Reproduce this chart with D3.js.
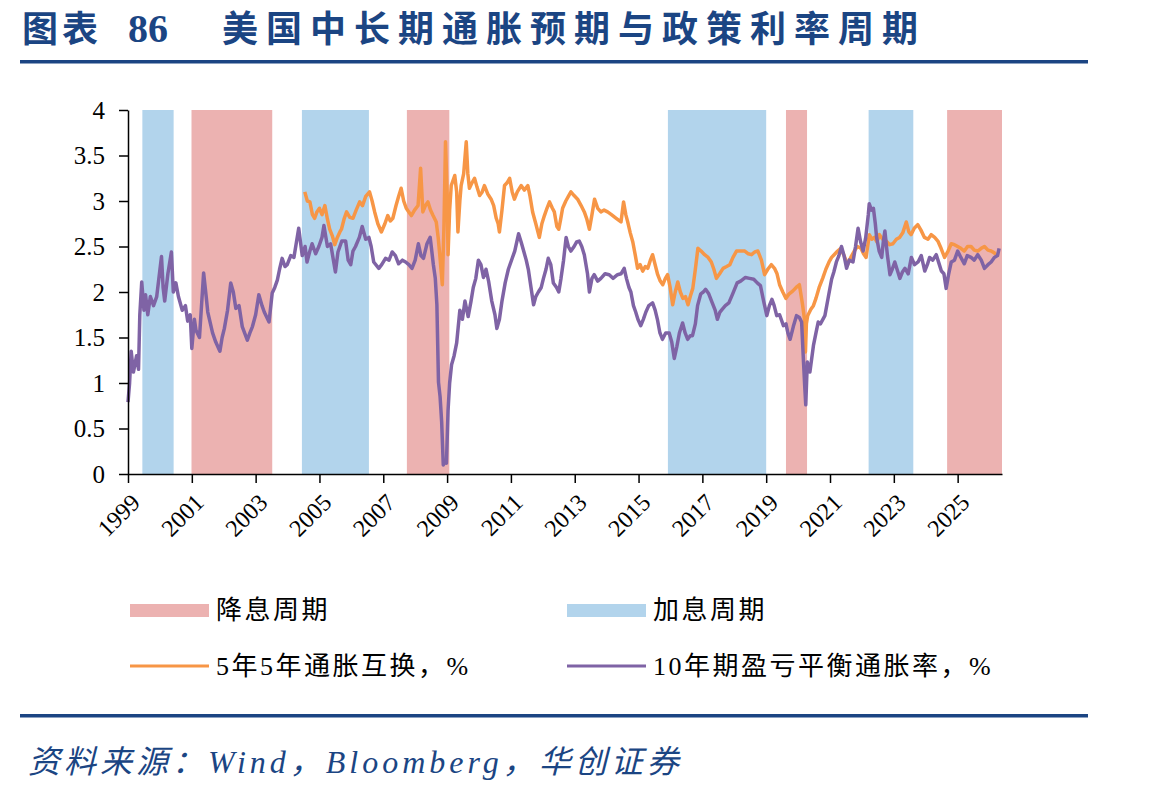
<!DOCTYPE html>
<html>
<head>
<meta charset="utf-8">
<script src="https://cdn.jsdelivr.net/npm/d3@7"></script>
<style>
  html, body { margin: 0; padding: 0; background: #fff; }
  svg { display: block; }
</style>
</head>
<body>
<div id="chart"></div>
<script>
// 美国中长期通胀预期与政策利率周期 — bands for Fed cycles, two inflation-expectation lines

const TITLE_TAG = '图表'
const TITLE_NUM = '86'
const TITLE_TEXT = '美国中长期通胀预期与政策利率周期'
const SOURCE_TEXT = '资料来源：Wind，Bloomberg，华创证券'

const yTicks = [0, 0.5, 1, 1.5, 2, 2.5, 3, 3.5, 4]
const xTicks = [1999, 2001, 2003, 2005, 2007, 2009, 2011, 2013, 2015, 2017, 2019, 2021, 2023, 2025]

// [start, end] in decimal years
const cutCycles = [[2000.99, 2003.52], [2007.74, 2009.07], [2019.62, 2020.28], [2024.67, 2026.39]]
const hikeCycles = [[1999.45, 2000.43], [2004.45, 2006.55], [2015.92, 2019.0], [2022.21, 2023.61]]

const legendLabels = ['降息周期', '加息周期', '5年5年通胀互换，%', '10年期盈亏平衡通胀率，%']

// 10年期盈亏平衡通胀率 [year, %]
const breakeven10y = [
  [1999.00, 0.79], [1999.05, 1.00], [1999.10, 1.35], [1999.17, 1.12], [1999.27, 1.30], [1999.33, 1.15],
  [1999.37, 1.75], [1999.43, 2.11], [1999.50, 1.80], [1999.55, 1.97], [1999.62, 1.75], [1999.70, 1.95],
  [1999.80, 1.85], [1999.90, 1.95], [2000.05, 2.39], [2000.10, 2.05], [2000.15, 1.90], [2000.25, 2.20],
  [2000.36, 2.44], [2000.42, 2.00], [2000.50, 2.10], [2000.58, 1.95], [2000.70, 1.80], [2000.80, 1.85],
  [2000.87, 1.68], [2000.95, 1.75], [2001.00, 1.38], [2001.08, 1.70], [2001.13, 1.58], [2001.24, 1.50],
  [2001.37, 2.21], [2001.45, 1.95], [2001.50, 1.78], [2001.65, 1.55], [2001.75, 1.45], [2001.88, 1.35],
  [2001.95, 1.50], [2002.02, 1.60], [2002.12, 1.80], [2002.22, 2.10], [2002.30, 2.00], [2002.38, 1.82],
  [2002.48, 1.85], [2002.58, 1.62], [2002.74, 1.47], [2002.82, 1.55], [2002.90, 1.62], [2003.00, 1.75],
  [2003.10, 1.97], [2003.20, 1.85], [2003.27, 1.78], [2003.42, 1.67], [2003.52, 1.99], [2003.60, 2.05],
  [2003.68, 2.13], [2003.75, 2.25], [2003.83, 2.37], [2003.92, 2.28], [2003.99, 2.30], [2004.10, 2.40],
  [2004.20, 2.38], [2004.35, 2.70], [2004.46, 2.40], [2004.55, 2.50], [2004.61, 2.33], [2004.70, 2.45],
  [2004.77, 2.53], [2004.88, 2.42], [2004.98, 2.50], [2005.08, 2.60], [2005.14, 2.73], [2005.25, 2.50],
  [2005.35, 2.53], [2005.50, 2.22], [2005.58, 2.44], [2005.70, 2.56], [2005.82, 2.56], [2005.90, 2.35],
  [2005.98, 2.30], [2006.05, 2.45], [2006.13, 2.50], [2006.25, 2.60], [2006.34, 2.72], [2006.45, 2.58],
  [2006.55, 2.60], [2006.62, 2.50], [2006.70, 2.33], [2006.86, 2.26], [2006.95, 2.30], [2007.07, 2.37],
  [2007.18, 2.35], [2007.28, 2.44], [2007.38, 2.40], [2007.48, 2.31], [2007.60, 2.35], [2007.70, 2.33],
  [2007.80, 2.30], [2007.90, 2.26], [2008.00, 2.35], [2008.10, 2.53], [2008.18, 2.40], [2008.26, 2.37],
  [2008.37, 2.53], [2008.47, 2.60], [2008.52, 2.45], [2008.57, 2.30], [2008.63, 2.15], [2008.68, 1.86],
  [2008.73, 1.01], [2008.78, 0.85], [2008.83, 0.57], [2008.88, 0.10], [2008.95, 0.15], [2008.98, 0.12],
  [2009.03, 0.70], [2009.08, 1.00], [2009.14, 1.20], [2009.22, 1.30], [2009.30, 1.44], [2009.40, 1.80],
  [2009.48, 1.70], [2009.56, 1.90], [2009.66, 1.73], [2009.75, 1.90], [2009.82, 2.05], [2009.90, 2.15],
  [2009.98, 2.35], [2010.06, 2.30], [2010.14, 2.16], [2010.22, 2.25], [2010.30, 2.12], [2010.40, 1.90],
  [2010.50, 1.75], [2010.56, 1.60], [2010.64, 1.70], [2010.72, 1.90], [2010.82, 2.10], [2010.92, 2.25],
  [2011.03, 2.36], [2011.12, 2.45], [2011.24, 2.64], [2011.32, 2.55], [2011.40, 2.45], [2011.48, 2.35],
  [2011.55, 2.24], [2011.63, 2.05], [2011.71, 1.86], [2011.78, 1.95], [2011.86, 2.00], [2011.95, 2.05],
  [2012.02, 2.15], [2012.10, 2.25], [2012.17, 2.37], [2012.25, 2.30], [2012.33, 2.10], [2012.43, 2.05],
  [2012.50, 2.00], [2012.57, 2.15], [2012.65, 2.35], [2012.73, 2.60], [2012.80, 2.50], [2012.88, 2.45],
  [2012.98, 2.50], [2013.06, 2.55], [2013.14, 2.56], [2013.22, 2.50], [2013.30, 2.41], [2013.40, 2.20],
  [2013.46, 2.00], [2013.54, 2.15], [2013.61, 2.19], [2013.72, 2.12], [2013.82, 2.15], [2013.95, 2.20],
  [2014.08, 2.19], [2014.20, 2.15], [2014.34, 2.19], [2014.45, 2.20], [2014.55, 2.26], [2014.62, 2.15],
  [2014.70, 2.05], [2014.76, 2.00], [2014.84, 1.85], [2014.91, 1.78], [2014.98, 1.70], [2015.07, 1.63],
  [2015.15, 1.70], [2015.23, 1.78], [2015.32, 1.85], [2015.44, 1.88], [2015.52, 1.80], [2015.59, 1.70],
  [2015.67, 1.55], [2015.75, 1.48], [2015.85, 1.55], [2015.96, 1.55], [2016.04, 1.45], [2016.12, 1.27],
  [2016.20, 1.40], [2016.28, 1.55], [2016.38, 1.66], [2016.46, 1.55], [2016.54, 1.48], [2016.62, 1.52],
  [2016.69, 1.52], [2016.78, 1.65], [2016.85, 1.85], [2016.95, 1.98], [2017.03, 2.00], [2017.10, 2.03],
  [2017.20, 1.98], [2017.31, 1.88], [2017.40, 1.80], [2017.47, 1.70], [2017.55, 1.78], [2017.62, 1.81],
  [2017.72, 1.85], [2017.83, 1.88], [2017.95, 1.98], [2018.09, 2.10], [2018.20, 2.12], [2018.35, 2.16],
  [2018.48, 2.15], [2018.61, 2.14], [2018.72, 2.10], [2018.82, 2.07], [2018.92, 1.90], [2019.02, 1.74],
  [2019.10, 1.85], [2019.18, 1.92], [2019.25, 1.85], [2019.33, 1.74], [2019.42, 1.75], [2019.54, 1.63],
  [2019.62, 1.65], [2019.68, 1.55], [2019.75, 1.48], [2019.85, 1.62], [2019.95, 1.74], [2020.04, 1.72],
  [2020.11, 1.67], [2020.17, 1.23], [2020.21, 0.95], [2020.24, 0.76], [2020.27, 1.05], [2020.29, 1.23],
  [2020.37, 1.12], [2020.48, 1.41], [2020.56, 1.55], [2020.63, 1.67], [2020.70, 1.65], [2020.84, 1.74],
  [2020.95, 1.95], [2021.05, 2.14], [2021.12, 2.22], [2021.20, 2.33], [2021.28, 2.40], [2021.36, 2.50],
  [2021.44, 2.40], [2021.52, 2.26], [2021.60, 2.35], [2021.72, 2.33], [2021.80, 2.50], [2021.88, 2.70],
  [2021.96, 2.55], [2022.04, 2.45], [2022.12, 2.60], [2022.20, 2.85], [2022.23, 2.97], [2022.30, 2.90],
  [2022.36, 2.92], [2022.42, 2.75], [2022.46, 2.60], [2022.54, 2.45], [2022.62, 2.38], [2022.67, 2.55],
  [2022.72, 2.67], [2022.80, 2.40], [2022.88, 2.19], [2022.95, 2.25], [2023.03, 2.33], [2023.10, 2.25],
  [2023.19, 2.15], [2023.27, 2.22], [2023.35, 2.26], [2023.45, 2.20], [2023.55, 2.38], [2023.65, 2.30],
  [2023.76, 2.33], [2023.86, 2.40], [2023.97, 2.23], [2024.05, 2.30], [2024.12, 2.38], [2024.22, 2.35],
  [2024.33, 2.41], [2024.41, 2.32], [2024.49, 2.23], [2024.57, 2.20], [2024.64, 2.04], [2024.72, 2.20],
  [2024.80, 2.33], [2024.90, 2.35], [2025.00, 2.45], [2025.10, 2.38], [2025.21, 2.31], [2025.30, 2.40],
  [2025.42, 2.38], [2025.52, 2.35], [2025.63, 2.41], [2025.74, 2.35], [2025.84, 2.26], [2025.95, 2.30],
  [2026.05, 2.33], [2026.15, 2.38], [2026.25, 2.40], [2026.30, 2.48]
]

// 5年5年通胀互换 [year, %]
const swap5y5y = [
  [2004.54, 3.10], [2004.62, 3.00], [2004.70, 2.99], [2004.78, 2.85], [2004.85, 2.81], [2004.92, 2.88],
  [2005.00, 2.92], [2005.08, 2.85], [2005.17, 2.95], [2005.25, 2.80], [2005.32, 2.69], [2005.40, 2.62],
  [2005.48, 2.52], [2005.56, 2.60], [2005.64, 2.66], [2005.69, 2.69], [2005.77, 2.80], [2005.85, 2.88],
  [2005.95, 2.82], [2006.05, 2.81], [2006.15, 2.90], [2006.26, 2.99], [2006.35, 2.95], [2006.45, 3.05],
  [2006.57, 3.10], [2006.65, 3.00], [2006.73, 2.88], [2006.83, 2.75], [2006.94, 2.66], [2007.05, 2.75],
  [2007.14, 2.84], [2007.22, 2.78], [2007.30, 2.81], [2007.40, 2.95], [2007.48, 3.05], [2007.56, 3.14],
  [2007.64, 3.00], [2007.72, 2.92], [2007.80, 2.88], [2007.88, 2.84], [2007.98, 2.90], [2008.09, 2.95],
  [2008.17, 3.36], [2008.24, 2.88], [2008.32, 2.95], [2008.40, 2.99], [2008.48, 2.90], [2008.56, 2.84],
  [2008.66, 2.77], [2008.72, 2.60], [2008.77, 2.41], [2008.85, 2.08], [2008.90, 2.70], [2008.95, 3.65],
  [2009.00, 3.10], [2009.03, 2.41], [2009.08, 2.90], [2009.13, 3.17], [2009.24, 3.28], [2009.30, 3.10],
  [2009.34, 2.66], [2009.40, 3.00], [2009.44, 3.17], [2009.52, 3.30], [2009.60, 3.65], [2009.65, 3.30],
  [2009.70, 3.14], [2009.78, 3.20], [2009.86, 3.25], [2009.94, 3.15], [2010.02, 3.06], [2010.10, 3.10],
  [2010.17, 3.17], [2010.27, 3.08], [2010.38, 3.02], [2010.46, 2.95], [2010.54, 2.81], [2010.60, 2.75],
  [2010.64, 2.66], [2010.72, 2.90], [2010.80, 3.17], [2010.88, 3.20], [2010.96, 3.25], [2011.04, 3.10],
  [2011.11, 3.02], [2011.20, 3.10], [2011.32, 3.17], [2011.42, 3.12], [2011.53, 3.17], [2011.60, 3.05],
  [2011.68, 2.88], [2011.78, 2.75], [2011.89, 2.60], [2011.97, 2.75], [2012.05, 2.84], [2012.13, 2.92],
  [2012.21, 2.99], [2012.30, 2.92], [2012.36, 2.88], [2012.44, 2.72], [2012.50, 2.69], [2012.56, 2.80],
  [2012.62, 2.92], [2012.72, 3.00], [2012.80, 3.05], [2012.88, 3.10], [2012.98, 3.06], [2013.09, 3.02],
  [2013.20, 2.95], [2013.30, 2.88], [2013.38, 2.80], [2013.46, 2.69], [2013.54, 2.85], [2013.62, 3.02],
  [2013.72, 2.92], [2013.82, 2.88], [2013.92, 2.90], [2014.03, 2.88], [2014.15, 2.85], [2014.30, 2.81],
  [2014.45, 2.77], [2014.53, 2.99], [2014.60, 2.85], [2014.66, 2.77], [2014.74, 2.65], [2014.82, 2.55],
  [2014.90, 2.40], [2014.97, 2.26], [2015.05, 2.30], [2015.13, 2.23], [2015.21, 2.28], [2015.29, 2.26],
  [2015.37, 2.35], [2015.44, 2.41], [2015.52, 2.30], [2015.60, 2.19], [2015.68, 2.12], [2015.76, 2.08],
  [2015.84, 2.15], [2015.91, 2.19], [2015.99, 2.05], [2016.07, 1.86], [2016.15, 2.00], [2016.23, 2.11],
  [2016.31, 2.00], [2016.39, 1.93], [2016.47, 1.95], [2016.55, 1.86], [2016.62, 1.95], [2016.70, 2.04],
  [2016.78, 2.25], [2016.86, 2.48], [2016.96, 2.45], [2017.07, 2.41], [2017.18, 2.38], [2017.28, 2.33],
  [2017.36, 2.25], [2017.44, 2.15], [2017.54, 2.20], [2017.65, 2.26], [2017.76, 2.28], [2017.86, 2.30],
  [2017.96, 2.38], [2018.07, 2.45], [2018.20, 2.45], [2018.33, 2.45], [2018.44, 2.42], [2018.54, 2.41],
  [2018.64, 2.44], [2018.74, 2.45], [2018.85, 2.35], [2018.95, 2.19], [2019.05, 2.25], [2019.16, 2.30],
  [2019.26, 2.26], [2019.34, 2.20], [2019.42, 2.08], [2019.52, 2.00], [2019.62, 1.93], [2019.72, 1.98],
  [2019.83, 2.01], [2019.94, 2.05], [2020.04, 2.08], [2020.14, 1.86], [2020.20, 1.70], [2020.23, 1.34],
  [2020.26, 1.65], [2020.30, 1.74], [2020.40, 1.81], [2020.48, 1.85], [2020.56, 1.93], [2020.66, 2.05],
  [2020.77, 2.15], [2020.87, 2.25], [2020.97, 2.33], [2021.05, 2.38], [2021.13, 2.41], [2021.24, 2.45],
  [2021.34, 2.48], [2021.44, 2.40], [2021.55, 2.30], [2021.65, 2.38], [2021.76, 2.45], [2021.86, 2.50],
  [2021.97, 2.48], [2022.05, 2.42], [2022.13, 2.38], [2022.20, 2.55], [2022.23, 2.63], [2022.31, 2.58],
  [2022.39, 2.60], [2022.47, 2.55], [2022.55, 2.63], [2022.65, 2.58], [2022.76, 2.56], [2022.87, 2.52],
  [2022.97, 2.53], [2023.08, 2.58], [2023.18, 2.60], [2023.28, 2.65], [2023.39, 2.77], [2023.47, 2.66],
  [2023.54, 2.63], [2023.64, 2.70], [2023.75, 2.74], [2023.85, 2.68], [2023.96, 2.60], [2024.07, 2.58],
  [2024.17, 2.63], [2024.28, 2.60], [2024.38, 2.56], [2024.48, 2.48], [2024.59, 2.38], [2024.70, 2.45],
  [2024.80, 2.53], [2024.90, 2.52], [2025.00, 2.50], [2025.10, 2.48], [2025.21, 2.45], [2025.31, 2.50],
  [2025.42, 2.50], [2025.52, 2.46], [2025.63, 2.45], [2025.74, 2.48], [2025.84, 2.50], [2025.95, 2.46],
  [2026.05, 2.45], [2026.15, 2.43], [2026.20, 2.41]
]

const COLORS = {
  navy: '#1b4583',
  cut: '#ecb2b1',
  hike: '#b2d4ec',
  swap: '#f79646',
  breakeven: '#7f63a5',
}

const SERIF = '"Liberation Serif", "Times New Roman", serif'
const CJK = '"Noto Sans CJK SC", "Noto Sans", sans-serif'

const W = 1149
const H = 792
const plot = { left: 128, right: 1002, top: 110, bottom: 474 }

const svg = d3.select('#chart').append('svg')
  .attr('width', W)
  .attr('height', H)

// header
const title = svg.append('g').attr('fill', COLORS.navy).attr('font-weight', 700)
title.append('text').attr('x', 22).attr('y', 42)
  .attr('font-family', CJK).attr('font-size', 36).attr('letter-spacing', 4)
  .text(TITLE_TAG)
title.append('text').attr('x', 128).attr('y', 42)
  .attr('font-family', SERIF).attr('font-size', 40)
  .text(TITLE_NUM)
title.append('text').attr('x', 222).attr('y', 42)
  .attr('font-family', CJK).attr('font-size', 36).attr('letter-spacing', 8)
  .text(TITLE_TEXT)

svg.append('rect').attr('x', 20).attr('y', 60).attr('width', 1068).attr('height', 3.5).attr('fill', COLORS.navy)
svg.append('rect').attr('x', 20).attr('y', 714).attr('width', 1068).attr('height', 3.5).attr('fill', COLORS.navy)

svg.append('text')
  .attr('x', 28).attr('y', 773)
  .attr('font-family', SERIF + ', ' + CJK)
  .attr('font-style', 'italic')
  .attr('font-size', 32)
  .attr('letter-spacing', 4)
  .attr('fill', COLORS.navy)
  .text(SOURCE_TEXT)

// scales
const x = d3.scaleLinear().domain([1999, 2026.39]).range([plot.left, plot.right])
const y = d3.scaleLinear().domain([0, 4]).range([plot.bottom, plot.top])

// policy-cycle bands
const bands = svg.append('g')
bands.selectAll('rect.cut')
  .data(cutCycles)
  .join('rect')
  .attr('class', 'cut')
  .attr('x', (d) => x(d[0]))
  .attr('width', (d) => x(d[1]) - x(d[0]))
  .attr('y', y(4))
  .attr('height', y(0) - y(4))
  .attr('fill', COLORS.cut)
bands.selectAll('rect.hike')
  .data(hikeCycles)
  .join('rect')
  .attr('class', 'hike')
  .attr('x', (d) => x(d[0]))
  .attr('width', (d) => x(d[1]) - x(d[0]))
  .attr('y', y(4))
  .attr('height', y(0) - y(4))
  .attr('fill', COLORS.hike)

// lines
const line = d3.line()
  .x((d) => x(d[0]))
  .y((d) => y(d[1]))

svg.append('path')
  .datum(swap5y5y)
  .attr('d', line)
  .attr('fill', 'none')
  .attr('stroke', COLORS.swap)
  .attr('stroke-width', 3.5)
  .attr('stroke-linejoin', 'round')

svg.append('path')
  .datum(breakeven10y)
  .attr('d', line)
  .attr('fill', 'none')
  .attr('stroke', COLORS.breakeven)
  .attr('stroke-width', 3.5)
  .attr('stroke-linejoin', 'round')

// axes
const yAxis = svg.append('g')
  .attr('transform', `translate(${plot.left},0)`)
  .call(d3.axisLeft(y).tickValues(yTicks).tickSize(9).tickSizeOuter(0).tickPadding(14).tickFormat((d) => d))
yAxis.selectAll('text')
  .attr('font-family', SERIF)
  .attr('font-size', 25)
  .attr('fill', '#000')

const xAxis = svg.append('g')
  .attr('transform', `translate(0,${plot.bottom})`)
  .call(d3.axisBottom(x).tickValues(xTicks).tickSize(9).tickSizeOuter(0).tickFormat(d3.format('d')))
xAxis.selectAll('text')
  .attr('font-family', SERIF)
  .attr('font-size', 24)
  .attr('fill', '#000')
  .attr('text-anchor', 'end')
  .attr('dy', '0.35em')
  .attr('y', 0)
  .attr('transform', 'translate(7,24) rotate(-45)')

svg.selectAll('.domain, .tick line').attr('stroke', '#000').attr('stroke-width', 1.5)

// legend
const legend = svg.append('g').attr('font-family', SERIF + ', ' + CJK).attr('font-size', 26).attr('fill', '#000')
const legendItems = [
  { label: legendLabels[0], kind: 'rect', color: COLORS.cut, x: 130, y: 610 },
  { label: legendLabels[1], kind: 'rect', color: COLORS.hike, x: 567, y: 610 },
  { label: legendLabels[2], kind: 'line', color: COLORS.swap, x: 130, y: 666 },
  { label: legendLabels[3], kind: 'line', color: COLORS.breakeven, x: 567, y: 666 },
]
legendItems.forEach((d) => {
  if (d.kind === 'rect') {
    legend.append('rect').attr('x', d.x).attr('y', d.y - 6).attr('width', 79).attr('height', 13).attr('fill', d.color)
  } else {
    legend.append('line').attr('x1', d.x).attr('x2', d.x + 79).attr('y1', d.y).attr('y2', d.y)
      .attr('stroke', d.color).attr('stroke-width', 3)
  }
  legend.append('text')
    .attr('x', d.x + 86)
    .attr('y', d.y + 9)
    .attr('letter-spacing', 2.5)
    .text(d.label)
})
</script>
</body>
</html>
